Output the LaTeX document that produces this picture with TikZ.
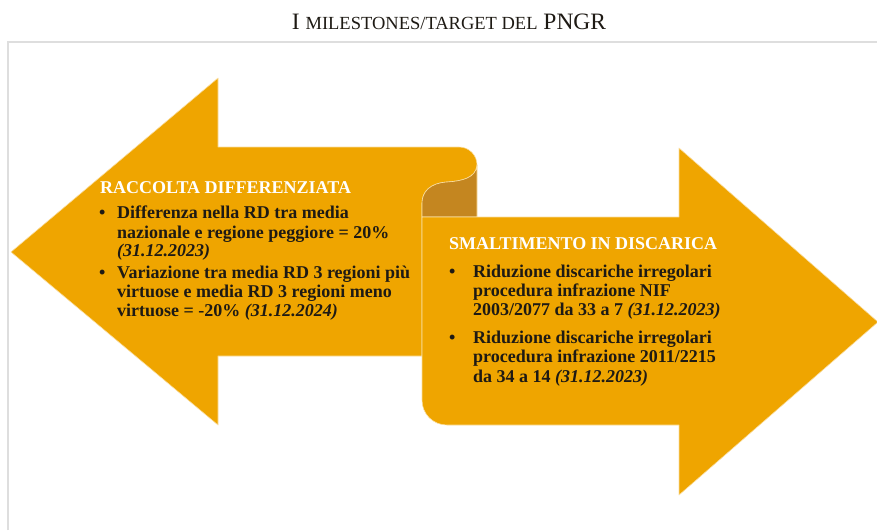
\documentclass[tikz,border=0pt]{standalone}
\usepackage{fontspec}
\setmainfont{Liberation Serif}
\definecolor{orng}{RGB}{239,165,0}
\definecolor{curl}{RGB}{196,134,32}
\definecolor{edge}{RGB}{250,222,160}
\definecolor{txtdark}{RGB}{30,26,20}
\definecolor{frame}{RGB}{222,222,222}
\begin{document}
\begin{tikzpicture}[x=1pt,y=-1pt,
  arrowfill/.style={fill=orng,draw=edge,line width=0.6pt,line join=round},
  backfill/.style={fill=curl,draw=edge,line width=0.6pt,line join=round},
  txt/.style={anchor=base west,inner sep=0pt,font=\fontsize{18}{19}\selectfont\bfseries,text=txtdark},
  head/.style={txt,text=white},
  bul/.style={txt}]
\useasboundingbox (0,0) rectangle (877,530);
% frame
\draw[frame,line width=1.2pt] (8,530) -- (8,42) -- (877,42);
% title
\node[anchor=base,inner sep=0pt,text=txtdark] (title) at (449,29)
  {\fontsize{23.5}{23.5}\selectfont I {\fontsize{18.5}{18.5}\selectfont MILESTONES/TARGET DEL} PNGR};
% left arrow
\path[arrowfill] (11,252) -- (218,78) -- (218,147) -- (459,147)
  .. controls (469,147) and (477,155) .. (477,165)
  .. controls (476,178) and (462,181) .. (447,182)
  .. controls (430,183) and (422,192) .. (422,203)
  -- (422,356) -- (218,356) -- (218,425) -- cycle;
% back of the curl
\path[backfill] (422,203) .. controls (422,192) and (430,183) .. (447,182)
  .. controls (462,181) and (476,178) .. (477,165)
  -- (477,217) -- (422,217) -- cycle;
% right arrow
\path[arrowfill] (422,217) -- (422,400)
  .. controls (422,414) and (433,425) .. (447,425)
  -- (679,425) -- (679,495) -- (878,322) -- (679,148) -- (679,217) -- cycle;
% left texts
\node[head] (lh) at (100,193) {RACCOLTA DIFFERENZIATA};
\node[bul] (lb1) at (99,218) {•};
\node[txt] (l1a) at (117,218) {Differenza nella RD tra media};
\node[txt] (l1b) at (117,238) {nazionale e regione peggiore = 20\%};
\node[txt] (l1c) at (117,256) {\itshape (31.12.2023)};
\node[bul] (lb2) at (99,278) {•};
\node[txt] (l2a) at (117,278) {Variazione tra media RD 3 regioni più};
\node[txt] (l2b) at (117,297) {virtuose e media RD 3 regioni meno};
\node[txt] (l2c) at (117,316) {virtuose = -20\% \textit{(31.12.2024)}};
% right texts
\node[head] (rh) at (449,249) {SMALTIMENTO IN DISCARICA};
\node[bul] (rb1) at (449,277) {•};
\node[txt] (r1a) at (473,277) {Riduzione discariche irregolari};
\node[txt] (r1b) at (473,296) {procedura infrazione NIF};
\node[txt] (r1c) at (473,315) {2003/2077 da 33 a 7 \textit{(31.12.2023)}};
\node[bul] (rb2) at (449,343) {•};
\node[txt] (r2a) at (473,343) {Riduzione discariche irregolari};
\node[txt] (r2b) at (473,362) {procedura infrazione 2011/2215};
\node[txt] (r2c) at (473,382) {da 34 a 14 \textit{(31.12.2023)}};
\end{tikzpicture}
\end{document}
